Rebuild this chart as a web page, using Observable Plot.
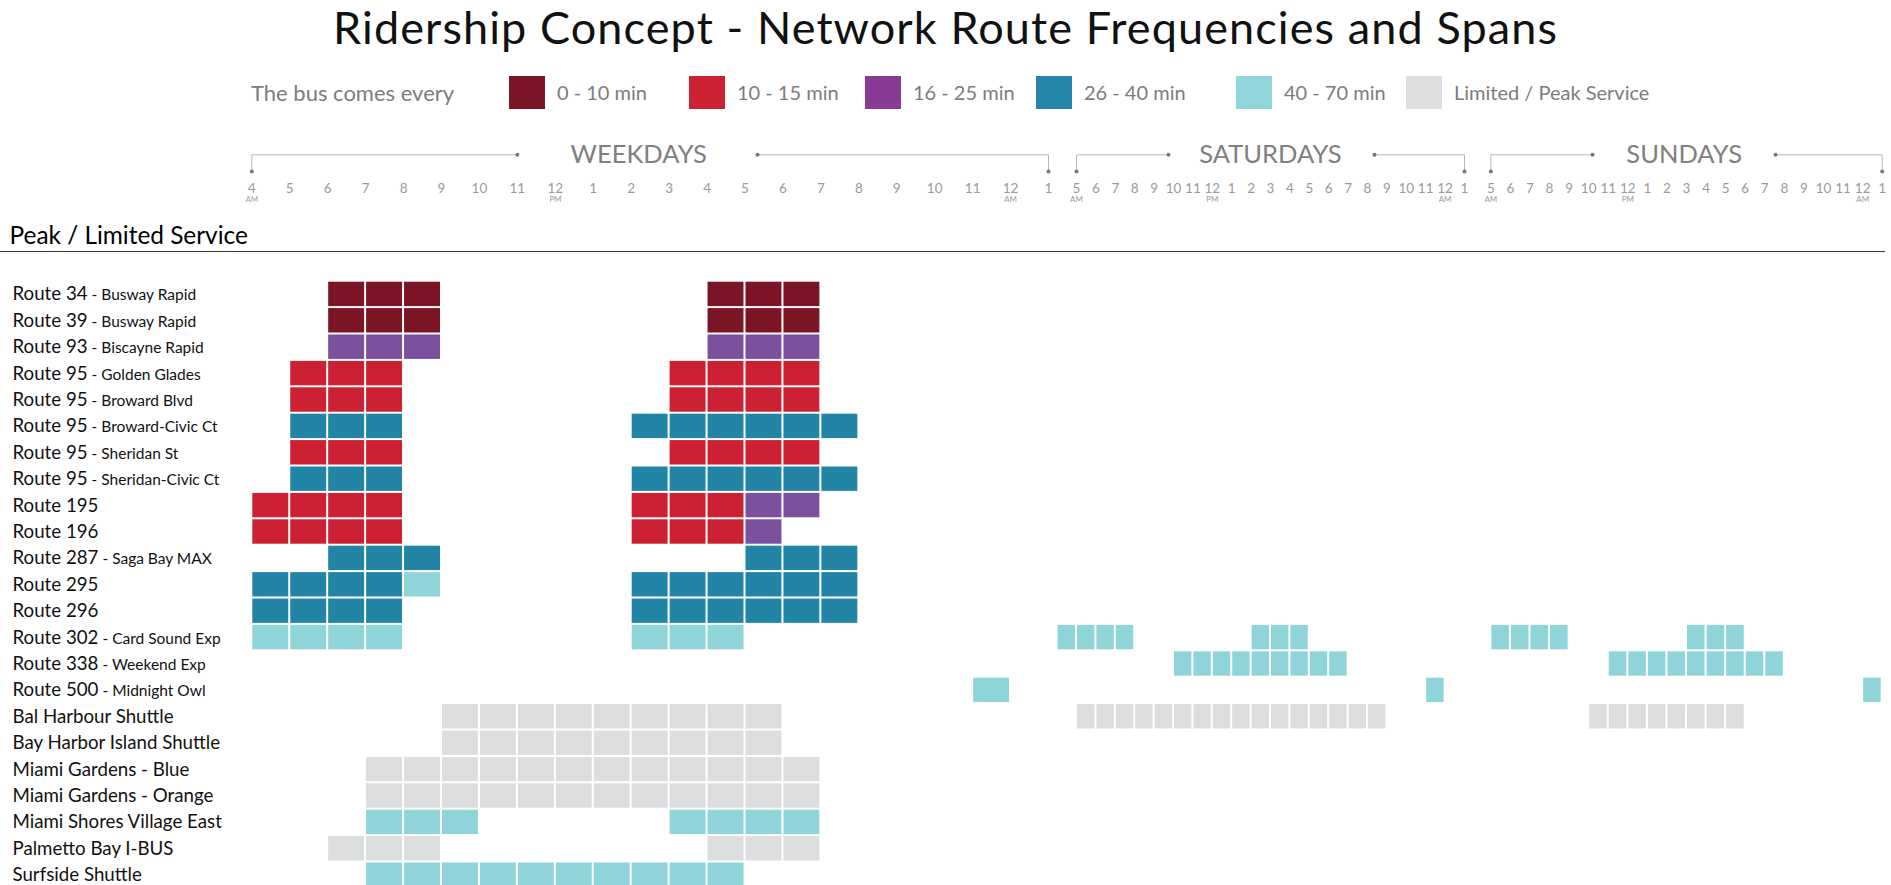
<!DOCTYPE html>
<html>
<head>
<meta charset="utf-8">
<script src="https://cdn.jsdelivr.net/npm/d3@7"></script>
<script src="https://cdn.jsdelivr.net/npm/@observablehq/plot@0.6"></script>
<style>
html, body { margin: 0; padding: 0; background: #fff; overflow: hidden; }
#wrap { position: relative; width: 1891px; height: 885px; overflow: hidden; font-family: Lato, "Open Sans", sans-serif; }
#title { position: absolute; left: 0; top: 0; width: 1891px; text-align: center; font-size: 45px; letter-spacing: 1.1px; line-height: normal; color: #111; white-space: nowrap; }
.legtext { position: absolute; top: 76px; height: 33px; line-height: 33px; font-size: 20px; color: #7c7c7c; white-space: nowrap; }
.legtext.lead { font-size: 22px; }
.sw { position: absolute; top: 76px; width: 36px; height: 33px; }
#header { position: absolute; left: 0; top: 130px; }
#chart { position: absolute; left: 0; top: 265px; }
</style>
</head>
<body>
<div id="wrap">
  <div id="title">Ridership Concept - Network Route Frequencies and Spans</div>
  <div id="legend"></div>
  <div id="header"></div>
  <div id="chart"></div>
</div>
<script>
// ---------------- DATA ----------------
const categories = ["0 - 10 min", "10 - 15 min", "16 - 25 min", "26 - 40 min", "40 - 70 min", "Limited / Peak Service"];
const legendLead = "The bus comes every";

const routeNames = ["Route 34", "Route 39", "Route 93", "Route 95", "Route 95", "Route 95", "Route 95", "Route 95",
  "Route 195", "Route 196", "Route 287", "Route 295", "Route 296", "Route 302", "Route 338", "Route 500",
  "Bal Harbour Shuttle", "Bay Harbor Island Shuttle", "Miami Gardens - Blue", "Miami Gardens - Orange",
  "Miami Shores Village East", "Palmetto Bay I-BUS", "Surfside Shuttle"];
const routeDetails = ["Busway Rapid", "Busway Rapid", "Biscayne Rapid", "Golden Glades", "Broward Blvd", "Broward-Civic Ct",
  "Sheridan St", "Sheridan-Civic Ct", "", "", "Saga Bay MAX", "", "", "Card Sound Exp", "Weekend Exp", "Midnight Owl",
  "", "", "", "", "", "", ""];

const sectionTitle = "Peak / Limited Service";
const days = ["Weekday", "Saturday", "Sunday"];
const dayLabels = ["WEEKDAYS", "SATURDAYS", "SUNDAYS"];

// service spans: [row index, day, first hour, end hour (exclusive), frequency class]
const spans = [
  [0, "Weekday", 6, 9, "0 - 10 min"], [0, "Weekday", 16, 19, "0 - 10 min"],
  [1, "Weekday", 6, 9, "0 - 10 min"], [1, "Weekday", 16, 19, "0 - 10 min"],
  [2, "Weekday", 6, 9, "16 - 25 min"], [2, "Weekday", 16, 19, "16 - 25 min"],
  [3, "Weekday", 5, 8, "10 - 15 min"], [3, "Weekday", 15, 19, "10 - 15 min"],
  [4, "Weekday", 5, 8, "10 - 15 min"], [4, "Weekday", 15, 19, "10 - 15 min"],
  [5, "Weekday", 5, 8, "26 - 40 min"], [5, "Weekday", 14, 20, "26 - 40 min"],
  [6, "Weekday", 5, 8, "10 - 15 min"], [6, "Weekday", 15, 19, "10 - 15 min"],
  [7, "Weekday", 5, 8, "26 - 40 min"], [7, "Weekday", 14, 20, "26 - 40 min"],
  [8, "Weekday", 4, 8, "10 - 15 min"], [8, "Weekday", 14, 17, "10 - 15 min"], [8, "Weekday", 17, 19, "16 - 25 min"],
  [9, "Weekday", 4, 8, "10 - 15 min"], [9, "Weekday", 14, 17, "10 - 15 min"], [9, "Weekday", 17, 18, "16 - 25 min"],
  [10, "Weekday", 6, 9, "26 - 40 min"], [10, "Weekday", 17, 20, "26 - 40 min"],
  [11, "Weekday", 4, 8, "26 - 40 min"], [11, "Weekday", 8, 9, "40 - 70 min"], [11, "Weekday", 14, 20, "26 - 40 min"],
  [12, "Weekday", 4, 8, "26 - 40 min"], [12, "Weekday", 14, 20, "26 - 40 min"],
  [13, "Weekday", 4, 8, "40 - 70 min"], [13, "Weekday", 14, 17, "40 - 70 min"],
  [13, "Saturday", 4, 8, "40 - 70 min"], [13, "Saturday", 14, 17, "40 - 70 min"],
  [13, "Sunday", 5, 9, "40 - 70 min"], [13, "Sunday", 15, 18, "40 - 70 min"],
  [14, "Saturday", 10, 19, "40 - 70 min"], [14, "Sunday", 11, 20, "40 - 70 min"],
  [15, "Weekday", 23, 24, "40 - 70 min"], [15, "Saturday", 23, 24, "40 - 70 min"], [15, "Sunday", 24, 25, "40 - 70 min"],
  [16, "Weekday", 9, 18, "Limited / Peak Service"], [16, "Saturday", 5, 21, "Limited / Peak Service"], [16, "Sunday", 10, 18, "Limited / Peak Service"],
  [17, "Weekday", 9, 18, "Limited / Peak Service"],
  [18, "Weekday", 7, 19, "Limited / Peak Service"],
  [19, "Weekday", 7, 19, "Limited / Peak Service"],
  [20, "Weekday", 7, 10, "40 - 70 min"], [20, "Weekday", 15, 19, "40 - 70 min"],
  [21, "Weekday", 6, 9, "Limited / Peak Service"], [21, "Weekday", 16, 19, "Limited / Peak Service"],
  [22, "Weekday", 7, 17, "40 - 70 min"]
];

// axis ticks (hour of service day; 24 = midnight, 25 = 1 AM next day)
const weekdayTickHours = [4, 5, 6, 7, 8, 9, 10, 11, 12, 13, 14, 15, 16, 17, 18, 19, 20, 21, 22, 23, 24, 25];
const weekdayTickLabels = ["4", "5", "6", "7", "8", "9", "10", "11", "12", "1", "2", "3", "4", "5", "6", "7", "8", "9", "10", "11", "12", "1"];
const weekendTickHours = [5, 6, 7, 8, 9, 10, 11, 12, 13, 14, 15, 16, 17, 18, 19, 20, 21, 22, 23, 24, 25];
const weekendTickLabels = ["5", "6", "7", "8", "9", "10", "11", "12", "1", "2", "3", "4", "5", "6", "7", "8", "9", "10", "11", "12", "1"];
const weekdayMeridiem = [[4, "AM"], [12, "PM"], [24, "AM"]];
const weekendMeridiem = [[5, "AM"], [12, "PM"], [24, "AM"]];

// ---------------- STYLE / LAYOUT ----------------
const colors = ["#7B1526", "#CC2132", "#7B509F", "#2385A6", "#8FD4D9", "#DCDDDF"];
const legendColors = ["#7B1526", "#CC2132", "#883B94", "#2386A6", "#8FD5DA", "#DCDDDF"];
const dayOffset = {Weekday: 0, Saturday: 100, Sunday: 200};
const X = (day, h) => dayOffset[day] + h;
const xScale = {type: "linear", domain: [4, 25, 100, 125, 200, 225], range: [251.3, 1048, 979, 1464, 1392.5, 1881.7], axis: null};
// bracket layout (in scale units): [start, end, inner-left, inner-right, label-at]
const bracketLayout = {
  Weekday: [4, 25, 11, 17.33, 14.2],
  Saturday: [105, 125, 109.74, 120.36, 115.0],
  Sunday: [205, 225, 210.2, 219.55, 214.88]
};

// ---------------- LEGEND (HTML) ----------------
const legend = document.getElementById("legend");
const legendSwatchX = [509, 689, 865, 1036, 1236, 1406];
{
  const lead = document.createElement("div");
  lead.className = "legtext lead"; lead.style.left = "251px"; lead.textContent = legendLead;
  legend.appendChild(lead);
  categories.forEach((c, i) => {
    const sw = document.createElement("div");
    sw.className = "sw"; sw.style.left = legendSwatchX[i] + "px"; sw.style.background = legendColors[i];
    legend.appendChild(sw);
    const t = document.createElement("div");
    t.className = "legtext"; t.style.left = (legendSwatchX[i] + 48) + "px"; t.textContent = c;
    legend.appendChild(t);
  });
}

// ---------------- HEADER PLOT ----------------
const ticks = [];
days.forEach(day => {
  const hours = day === "Weekday" ? weekdayTickHours : weekendTickHours;
  const labels = day === "Weekday" ? weekdayTickLabels : weekendTickLabels;
  hours.forEach((h, i) => ticks.push({x: X(day, h), label: labels[i]}));
});
const meridiem = [];
days.forEach(day => {
  (day === "Weekday" ? weekdayMeridiem : weekendMeridiem).forEach(([h, m]) => meridiem.push({x: X(day, h), label: m}));
});
const yTop = 24.3, yDot = 41;
const bracketPts = [], bracketDots = [], sections = [];
days.forEach((day, i) => {
  const [s, e, il, ir, at] = bracketLayout[day];
  bracketPts.push({seg: day + "L", x: s, y: yDot}, {seg: day + "L", x: s, y: yTop}, {seg: day + "L", x: il, y: yTop});
  bracketPts.push({seg: day + "R", x: ir, y: yTop}, {seg: day + "R", x: e, y: yTop}, {seg: day + "R", x: e, y: yDot});
  bracketDots.push({x: s, y: yDot}, {x: il, y: yTop}, {x: ir, y: yTop}, {x: e, y: yDot});
  sections.push({x: at, label: dayLabels[i]});
});

const header = Plot.plot({
  width: 1891, height: 135,
  marginLeft: 0, marginTop: 0, marginBottom: 0, marginRight: 6,
  style: {fontFamily: "Lato, 'Open Sans', sans-serif", background: "transparent"},
  x: xScale,
  y: {type: "linear", domain: [0, 135], range: [0, 135], axis: null},
  marks: [
    Plot.line(bracketPts, {x: "x", y: "y", z: "seg", stroke: "#b8b8b8", strokeWidth: 1}),
    Plot.dot(bracketDots, {x: "x", y: "y", r: 2, fill: "#777", stroke: null}),
    Plot.text(sections, {x: "x", y: yTop, text: "label", fontSize: 25.5, fill: "#808080"}),
    Plot.text(ticks, {x: "x", y: 58, text: "label", fontSize: 13.5, fill: "#9a9a9a"}),
    Plot.text(meridiem, {x: "x", y: 69, text: "label", fontSize: 8, fill: "#9a9a9a"}),
    Plot.text([sectionTitle], {frameAnchor: "left", y: 106, dx: 9, text: d => d, textAnchor: "start", fontSize: 24.4, fill: "#000"}),
    Plot.ruleY([121], {stroke: "#333", strokeWidth: 1})
  ]
});
document.getElementById("header").appendChild(header);

// ---------------- MAIN PLOT ----------------
const rowKeys = routeNames.map((n, i) => routeDetails[i] ? `${n} - ${routeDetails[i]}` : n);
const cells = spans.flatMap(([r, day, from, to, cat]) =>
  d3.range(from, to).map(h => ({route: rowKeys[r], day, hour: h, cat})));

const chart = Plot.plot({
  width: 1891, height: 620,
  margin: 0,
  style: {fontFamily: "Lato, 'Open Sans', sans-serif", background: "transparent"},
  x: xScale,
  y: {type: "band", domain: rowKeys, range: [15.7, 622.9], padding: 0, round: false, axis: null},
  color: {domain: categories, range: colors},
  marks: [
    Plot.barX(cells, {x1: d => X(d.day, d.hour), x2: d => X(d.day, d.hour + 1), y: "route", fill: "cat", inset: 1}),
    Plot.text(rowKeys, {y: d => d, text: d => d, frameAnchor: "left", dx: 12, textAnchor: "start", fontSize: 18.7, fill: "#111"})
  ]
});
document.getElementById("chart").appendChild(chart);

// split row labels into name + smaller detail
chart.querySelectorAll('g[aria-label="text"] text').forEach(t => {
  const key = t.textContent;
  const i = rowKeys.indexOf(key);
  if (i < 0 || !routeDetails[i]) return;
  t.textContent = "";
  const a = document.createElementNS("http://www.w3.org/2000/svg", "tspan");
  a.textContent = routeNames[i];
  const b = document.createElementNS("http://www.w3.org/2000/svg", "tspan");
  b.textContent = " - " + routeDetails[i];
  b.setAttribute("font-size", "15.5");
  t.appendChild(a); t.appendChild(b);
});
</script>
</body>
</html>
